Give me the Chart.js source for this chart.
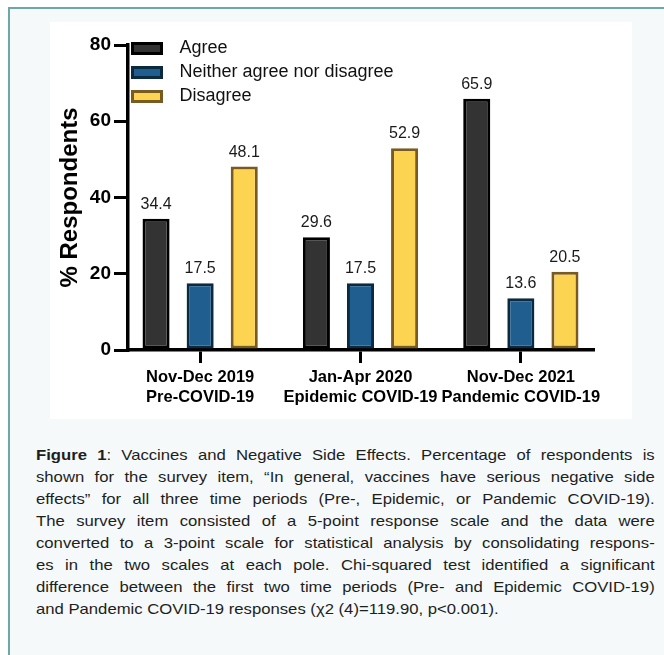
<!DOCTYPE html>
<html><head><meta charset="utf-8">
<script src="https://cdn.jsdelivr.net/npm/chart.js@4/dist/chart.umd.min.js"></script>
<style>
html,body{margin:0;padding:0;background:#fff;width:664px;height:655px;overflow:hidden;font-family:"Liberation Sans",Arial,sans-serif;}
#frame{position:absolute;left:8px;top:7px;width:720px;height:720px;border-left:2px solid #6aa9a7;border-top:2px solid #6aa9a7;background:#f5f9f9;}
#panel{position:absolute;left:50px;top:22px;width:582px;height:397px;background:#fff;}
#c{position:absolute;left:0;top:0;}
#caption{position:absolute;left:36px;top:444px;width:619px;font-size:14.5px;line-height:22px;color:#1e1e1e;}
#caption .l{width:538px;transform:scaleX(1.15);transform-origin:0 0;text-align:justify;text-align-last:justify;}
#caption .last{text-align:left;text-align-last:left;}
</style></head>
<body>
<div id="frame"></div>
<div id="panel"><canvas id="c" width="582" height="397"></canvas></div>
<div id="caption">
<div class="l"><b>Figure 1</b>: Vaccines and Negative Side Effects. Percentage of respondents is</div>
<div class="l">shown for the survey item, “In general, vaccines have serious negative side</div>
<div class="l">effects” for all three time periods (Pre-, Epidemic, or Pandemic COVID-19).</div>
<div class="l">The survey item consisted of a 5-point response scale and the data were</div>
<div class="l">converted to a 3-point scale for statistical analysis by consolidating respons-</div>
<div class="l">es in the two scales at each pole. Chi-squared test identified a significant</div>
<div class="l">difference between the first two time periods (Pre- and Epidemic COVID-19)</div>
<div class="l last">and Pandemic COVID-19 responses (χ2 (4)=119.90, p&lt;0.001).</div>
</div>
<script>
// ---- data ----
const periods = ['Nov-Dec 2019', 'Jan-Apr 2020', 'Nov-Dec 2021'];
const phases = ['Pre-COVID-19', 'Epidemic COVID-19', 'Pandemic COVID-19'];
const seriesNames = ['Agree', 'Neither agree nor disagree', 'Disagree'];
const agree = [34.4, 29.6, 65.9];
const neither = [17.5, 17.5, 13.6];
const disagree = [48.1, 52.9, 20.5];
const yTicks = [0, 20, 40, 60, 80];

// ---- styles ----
const fills = ['#333333', '#1f5e8f', '#fdd452'];
const borders = ['#000000', '#0b2a40', '#7a5a23'];
const values = [agree, neither, disagree];

Chart.defaults.font.family = '"Liberation Sans", Arial, sans-serif';

const valueLabels = {
  id: 'valueLabels',
  afterDatasetsDraw(chart) {
    const ctx = chart.ctx;
    ctx.save();
    ctx.font = '16px "Liberation Sans", Arial, sans-serif';
    ctx.fillStyle = '#1a1a1a';
    ctx.textAlign = 'center';
    ctx.textBaseline = 'alphabetic';
    chart.data.datasets.forEach((ds, di) => {
      chart.getDatasetMeta(di).data.forEach((el, i) => {
        ctx.fillText(ds.data[i].y.toFixed(1), el.x, el.y - 10);
      });
    });
    ctx.restore();
  }
};

const legendShift = {
  id: 'legendShift',
  afterLayout(chart) {
    const lg = chart.legend;
    const top = chart.scales.y.getPixelForValue(yTicks[yTicks.length - 1]);
    lg.top = top - 11.5;
    lg.left = chart.chartArea.left - 1.5;
  }
};

new Chart(document.getElementById('c'), {
  type: 'bar',
  data: {
    datasets: seriesNames.map((name, s) => ({
      label: name,
      data: values[s].map((v, i) => ({ x: i, y: v })),
      backgroundColor: fills[s],
      borderColor: borders[s],
      borderWidth: 3,
      borderSkipped: false,
      categoryPercentage: 0.825,
      barPercentage: 0.614
    }))
  },
  options: {
    responsive: false,
    animation: false,
    devicePixelRatio: 1,
    layout: { padding: { top: 23, right: 39, left: 0, bottom: 0 } },
    plugins: {
      tooltip: { enabled: false },
      legend: {
        position: 'chartArea',
        align: 'start',
        labels: {
          boxWidth: 29,
          boxHeight: 10,
          padding: 6,
          color: '#111',
          font: { size: 18 },
          generateLabels(chart) {
            const items = Chart.defaults.plugins.legend.labels.generateLabels(chart);
            items.forEach(it => { it.text = '\u2002' + it.text; });
            return items;
          }
        }
      }
    },
    scales: {
      x: {
        type: 'linear',
        min: -0.45,
        max: 2.45,
        offset: false,
        z: 1,
        afterBuildTicks: s => { s.ticks = periods.map((p, i) => ({ value: i })); },
        afterFit: s => { s.height = 69; },
        ticks: {
          autoSkip: false,
          maxRotation: 0,
          padding: 5,
          color: '#000',
          font: { size: 16.5, weight: 'bold' },
          callback: v => [periods[v], phases[v]]
        },
        grid: { offset: false, drawOnChartArea: false, drawTicks: true, tickLength: 13, lineWidth: 3, color: '#000' },
        border: { width: 3.5, color: '#000' }
      },
      y: {
        min: 0,
        max: 80,
        afterBuildTicks: s => { s.ticks = yTicks.map(v => ({ value: v })); },
        afterFit: s => { s.width = 78; },
        ticks: { padding: 3, color: '#000', font: { size: 19, weight: 'bold' } },
        grid: { drawOnChartArea: false, drawTicks: true, tickLength: 14, lineWidth: 3, color: '#000' },
        border: { width: 3.5, color: '#000' },
        title: {
          display: true,
          text: '% Respondents',
          color: '#000',
          font: { size: 24, weight: 'bold' },
          padding: { top: 6, bottom: 0 }
        }
      }
    }
  },
  plugins: [valueLabels, legendShift]
});
</script>
</body></html>
